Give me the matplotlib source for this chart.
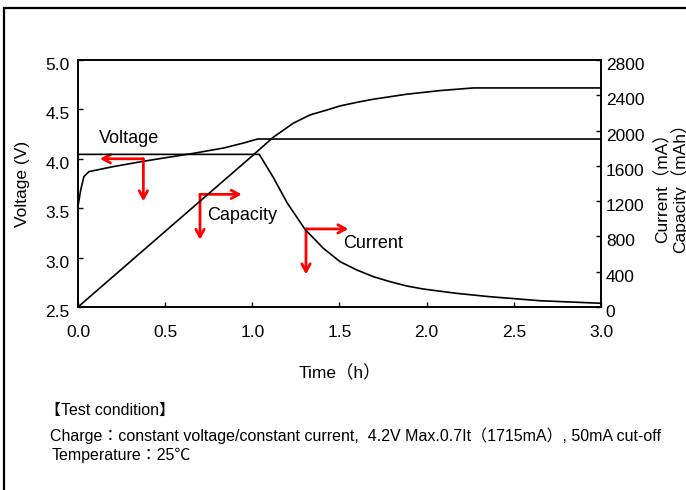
import matplotlib
matplotlib.use("Agg")
import matplotlib.pyplot as plt
import matplotlib.transforms as mtransforms
from matplotlib.patches import Rectangle

plt.rcParams['font.family'] = ['Liberation Sans', 'Noto Sans CJK JP', 'DejaVu Sans']

# voltage curve (V)
volt_t = [0, 0.015, 0.034, 0.063, 0.2, 0.36, 0.5, 0.646, 0.838, 0.95, 1.03, 3.0]
volt_v = [3.52, 3.68, 3.82, 3.87, 3.92, 3.97, 4.01, 4.05, 4.11, 4.16, 4.20, 4.20]

# current curve (mA)
cur_t = [0, 1.04, 1.12, 1.20, 1.302, 1.407, 1.503, 1.599, 1.694, 1.79, 1.886, 1.98,
         2.17, 2.36, 2.65, 3.0]
cur_i = [1730, 1730, 1470, 1180, 881, 666, 514, 420, 344, 287, 238, 204,
         155, 117, 71, 42]

# capacity curve (mAh)
cap_t = [0, 1.006, 1.12, 1.235, 1.331, 1.43, 1.503, 1.60, 1.694, 1.886, 2.077, 2.268, 3.0]
cap_c = [0, 1724, 1924, 2083, 2177, 2234, 2279, 2320, 2355, 2412, 2453, 2483, 2483]

x_ticks = [0.0, 0.5, 1.0, 1.5, 2.0, 2.5, 3.0]
v_ticks = [2.5, 3.0, 3.5, 4.0, 4.5, 5.0]
r_ticks = [0, 400, 800, 1200, 1600, 2000, 2400, 2800]

# labels: name, x, y (left axis units)
labels = [("Voltage", 0.122, 4.21), ("Capacity", 0.738, 3.43), ("Current", 1.519, 3.14)]
# red arrows: corner (x, y), horizontal tip x, vertical tip y
arrows = [((0.375, 4.0), 0.126, 3.57),
          ((0.70, 3.64), 0.939, 3.18),
          ((1.308, 3.29), 1.551, 2.83)]

fig = plt.figure(figsize=(6.86, 4.9), dpi=100)
ax = fig.add_axes([0.1137, 0.3735, 0.7623, 0.5041])
ax2 = ax.twinx()

ax.plot(volt_t, volt_v, color='black', lw=1.2)
ax2.plot(cur_t, cur_i, color='black', lw=1.2)
ax2.plot(cap_t, cap_c, color='black', lw=1.2)

ax.set_xlim(0, 3.0)
ax.set_ylim(2.5, 5.0)
ax2.set_ylim(0, 2800)
ax.set_xticks(x_ticks)
ax.set_xticklabels(["%.1f" % v for v in x_ticks])
ax.set_yticks(v_ticks)
ax.set_yticklabels(["%.1f" % v for v in v_ticks])
ax2.set_yticks(r_ticks)

ax.tick_params(direction='in', length=3.5, width=1, labelsize=12.5, top=False)
ax.tick_params(axis='x', pad=13)
ax.tick_params(axis='y', pad=6)
ax2.tick_params(direction='in', length=3.5, width=1, labelsize=12.5)
for a in (ax, ax2):
    for s in a.spines.values():
        s.set_linewidth(1.2)

# y tick labels sit a little below their ticks in the original
shift = mtransforms.ScaledTranslation(0, -4 / 100, fig.dpi_scale_trans)
for lbl in ax.get_yticklabels() + ax2.get_yticklabels():
    lbl.set_transform(lbl.get_transform() + shift)

ax.set_xlabel("Time（h）", fontsize=12.5, labelpad=18)
ax.set_ylabel("Voltage (V)", fontsize=12.5, labelpad=11)
ax2.set_ylabel("Current（mA）\nCapacity（mAh）", fontsize=12.5, labelpad=7,
               linespacing=0.95)

for name, lx, ly in labels:
    ax.text(lx, ly, name, fontsize=13, va='center', ha='left')

for (cx, cy), hx, vy in arrows:
    style = dict(arrowstyle='->,head_length=0.55,head_width=0.3', color='red',
                 lw=2, shrinkA=0, shrinkB=0)
    ax.annotate('', xy=(hx, cy), xytext=(cx, cy), arrowprops=style)
    ax.annotate('', xy=(cx, vy), xytext=(cx, cy), arrowprops=style)

fig.text(45/686, 1 - 410/490, "【Test condition】", fontsize=11.5, va='center')
fig.text(50/686, 1 - 436/490,
         "Charge：constant voltage/constant current,  4.2V Max.0.7It（1715mA）, 50mA cut-off",
         fontsize=11.5, va='center')
fig.text(52/686, 1 - 455/490, "Temperature：25℃", fontsize=11.5, va='center')

fig.patches.append(Rectangle((4/686, -0.5), 2.0, 1.5 - 8/490, transform=fig.transFigure,
                             fill=False, edgecolor='black', lw=1.6))

fig.savefig("out.png", dpi=100)
